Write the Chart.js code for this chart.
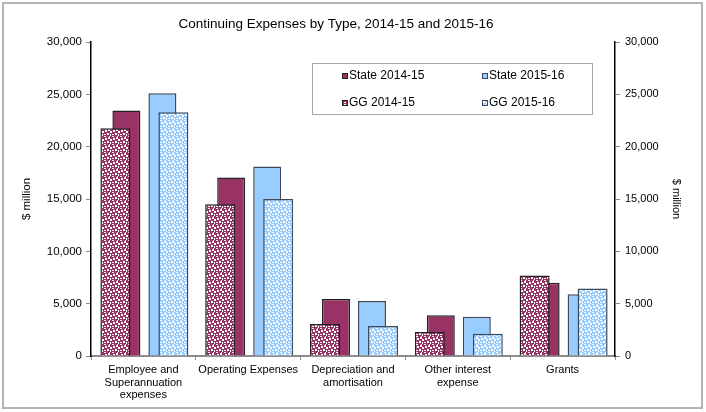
<!DOCTYPE html>
<html>
<head>
<meta charset="utf-8">
<script src="https://cdn.jsdelivr.net/npm/chart.js@4/dist/chart.umd.min.js"></script>
<style>
  html, body { margin: 0; padding: 0; background: #fff; }
  #wrap { width: 706px; height: 412px; }
</style>
</head>
<body>
<div id="wrap"><canvas id="chart" width="706" height="412"></canvas></div>
<script>
// Continuing expenses by type ($ million)
const categories = [
    ['Employee and', 'Superannuation', 'expenses'],
    'Operating Expenses',
    ['Depreciation and', 'amortisation'],
    ['Other interest', 'expense'],
    'Grants',
];
const state1415 = [23450, 17050, 5450, 3900, 7000];
const state1516 = [25100, 18100, 5250, 3760, 5900];
const gg1415 = [21750, 14500, 3050, 2300, 7700];
const gg1516 = [23300, 15000, 2870, 2120, 6450];
const yTicks = [0, 5000, 10000, 15000, 20000, 25000, 30000];

const TITLE = 'Continuing Expenses by Type, 2014-15 and 2015-16';
const FONT = "'Liberation Sans', Arial, sans-serif";
const MAROON = '#993366';
const SKY = '#99ccff';

// small confetti pattern like the old Excel fill
function confetti(base, dot) {
    const c = document.createElement('canvas');
    c.width = 8; c.height = 8;
    const g = c.getContext('2d');
    g.fillStyle = base;
    g.fillRect(0, 0, 8, 8);
    g.fillStyle = dot;
    [[0, 0, 2, 1], [4, 1, 2, 2], [1, 2, 2, 2], [6, 3, 2, 2], [3, 5, 2, 2], [0, 6, 2, 1], [6, 6, 1, 2], [5, 0, 1, 1]]
        .forEach(r => g.fillRect(r[0], r[1], r[2], r[3]));
    return g.createPattern(c, 'repeat');
}

const ggFill1415 = confetti(MAROON, '#ffffff');
const ggFill1516 = confetti(SKY, '#ffffff');

const legendItems = [
    { label: 'State 2014-15', fill: MAROON, border: '#222' },
    { label: 'State 2015-16', fill: SKY, border: '#3c4a5c' },
    { label: 'GG 2014-15', fill: ggFill1415, border: '#222' },
    { label: 'GG 2015-16', fill: ggFill1516, border: '#3c4a5c' },
];

const decorations = {
    id: 'decorations',
    afterDraw(chart) {
        const ctx = chart.ctx;
        ctx.save();
        // title
        ctx.fillStyle = '#000';
        ctx.font = '13.5px ' + FONT;
        ctx.textAlign = 'center';
        ctx.textBaseline = 'middle';
        ctx.fillText(TITLE, 336, 24);
        // legend box
        ctx.textAlign = 'left';
        ctx.fillStyle = '#fff';
        ctx.fillRect(312, 63, 280, 52);
        ctx.strokeStyle = '#a6a6a6';
        ctx.lineWidth = 1;
        ctx.strokeRect(312.5, 63.5, 280, 51);
        ctx.font = '12px ' + FONT;
        legendItems.forEach((it, i) => {
            const x = i % 2 === 0 ? 342 : 482;
            const y = i < 2 ? 76 : 103;
            ctx.fillStyle = it.fill;
            ctx.fillRect(x, y - 3, 6, 6);
            ctx.strokeStyle = it.border;
            ctx.lineWidth = 1;
            ctx.strokeRect(x + 0.5, y - 2.5, 5, 5);
            ctx.fillStyle = '#000';
            ctx.fillText(it.label, x + 7, y);
        });
        // outer frame
        ctx.strokeStyle = '#b4b4b4';
        ctx.lineWidth = 2;
        ctx.strokeRect(3, 3, 699, 405);
        ctx.restore();
    }
};

const fmt = v => Number(v).toLocaleString('en-US');

// all four share one group; order sets slot (and draw order: lower order on top)
new Chart(document.getElementById('chart'), {
    type: 'bar',
    data: {
        labels: categories,
        datasets: [
            {
                label: 'GG 2014-15', data: gg1415, order: 0,
                backgroundColor: ggFill1415, borderColor: '#222', borderWidth: 1.5,
                categoryPercentage: 0.7125, barPercentage: 1.607,
            },
            {
                label: 'State 2014-15', data: state1415, order: 1,
                backgroundColor: MAROON, borderColor: '#222', borderWidth: 1.5,
                categoryPercentage: 1.2977, barPercentage: 0.8235,
            },
            {
                label: 'GG 2015-16', data: gg1516, order: 2,
                backgroundColor: ggFill1516, borderColor: '#3c4a5c', borderWidth: 1.5,
                categoryPercentage: 2.29, barPercentage: 0.5,
            },
            {
                label: 'State 2015-16', data: state1516, order: 3,
                backgroundColor: SKY, borderColor: '#3c4a5c', borderWidth: 1.5,
                categoryPercentage: 0.4835, barPercentage: 2.21,
            },
        ]
    },
    options: {
        responsive: false,
        animation: false,
        layout: { padding: { left: 4, right: 4, top: 42, bottom: 4 } },
        plugins: {
            legend: { display: false },
            tooltip: { enabled: false },
            title: { display: false },
        },
        scales: {
            x: {
                type: 'category',
                offset: true,
                border: { display: true, color: '#8c8c8c', width: 2 },
                grid: { drawOnChartArea: false, offset: true, color: '#8c8c8c', tickLength: 4 },
                ticks: {
                    color: '#000', maxRotation: 0, autoSkip: false, padding: 3,
                    font: { family: FONT, size: 11, lineHeight: 1.18 },
                },
                afterFit: s => { s.height = 52; },
            },
            y: {
                position: 'left',
                min: 0, max: 30000,
                afterBuildTicks: s => { s.ticks = yTicks.map(v => ({ value: v })); },
                border: { display: true, color: '#000', width: 1.5 },
                grid: { drawOnChartArea: false, color: '#8c8c8c', tickLength: 5 },
                ticks: { color: '#000', padding: 4, font: { family: FONT, size: 11.5 }, callback: fmt },
                title: {
                    display: true, text: '$ million', color: '#000',
                    font: { family: FONT, size: 11.5 }, padding: { top: 16, bottom: 0 },
                },
                afterFit: s => { s.width = 87; },
            },
            y2: {
                position: 'right',
                min: 0, max: 30000,
                afterBuildTicks: s => { s.ticks = yTicks.map(v => ({ value: v })); },
                border: { display: true, color: '#000', width: 1.5 },
                grid: { drawOnChartArea: false, color: '#8c8c8c', tickLength: 5 },
                ticks: { color: '#000', padding: 5, font: { family: FONT, size: 11 }, callback: fmt },
                title: {
                    display: true, text: '$ million', color: '#000',
                    font: { family: FONT, size: 11 }, padding: { top: 19.4, bottom: 0 },
                },
                afterFit: s => { s.width = 87; },
            },
        }
    },
    plugins: [decorations]
});
</script>
</body>
</html>
